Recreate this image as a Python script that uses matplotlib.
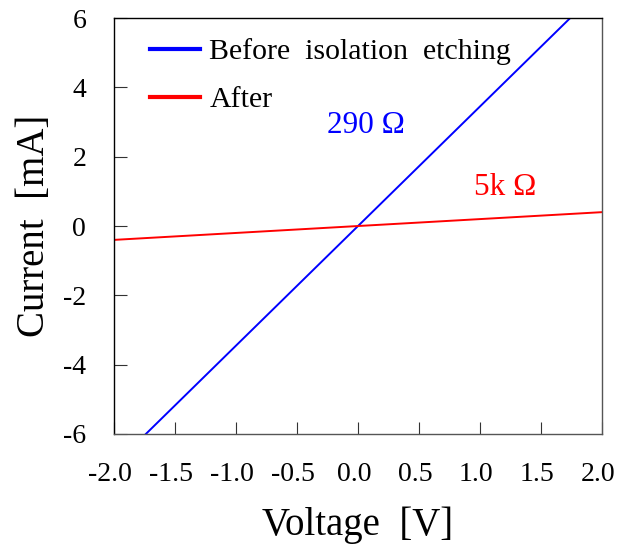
import matplotlib
matplotlib.use("Agg")
import matplotlib.pyplot as plt
import matplotlib.transforms as mtransforms
from matplotlib.ticker import FormatStrFormatter

plt.rcParams['font.family'] = ['Liberation Serif', 'DejaVu Serif']
plt.rcParams['axes.unicode_minus'] = False

# Data (V in volts, I in mA)
voltage = [-2.0, -1.0, 0.0, 1.0, 2.0]
current_before = [-6.9, -3.45, 0.0, 3.45, 6.9]
current_after = [-0.4, -0.2, 0.0, 0.2, 0.4]
series_labels = ["Before  isolation  etching", "After"]
annot_texts = ["290 Ω", "5k Ω"]
x_ticks = [-2.0, -1.5, -1.0, -0.5, 0.0, 0.5, 1.0, 1.5, 2.0]
y_ticks = [-6, -4, -2, 0, 2, 4, 6]

fig = plt.figure(figsize=(6.2, 5.47), dpi=100)
ax = fig.add_axes([0.1839, 0.2066, 0.971 - 0.1839, 0.967 - 0.2066])

ax.plot(voltage, current_before, color='#0000ff', lw=1.4, label=series_labels[0])
ax.plot(voltage, current_after, color='#ff0000', lw=1.4, label=series_labels[1])

ax.set_xlim(-2, 2)
ax.set_ylim(-6, 6)
ax.set_xticks(x_ticks)
ax.set_yticks(y_ticks)
ax.xaxis.set_major_formatter(FormatStrFormatter('%.1f'))
ax.tick_params(direction='in', length=9, width=0.8, labelsize=20,
               top=False, right=False, colors='#333333', labelcolor='black')
ax.tick_params(axis='x', pad=20.5)
ax.tick_params(axis='y', pad=20)
shift = mtransforms.ScaledTranslation(-4 / 100, 0, fig.dpi_scale_trans)
for lbl in ax.get_xticklabels():
    lbl.set_transform(lbl.get_transform() + shift)
for s in ax.spines.values():
    s.set_color('#555555')
    s.set_linewidth(1.0)
ax.spines['left'].set_color('black')
ax.spines['top'].set_color('black')

ax.set_xlabel("Voltage  [V]", fontsize=28, labelpad=14)
ax.set_ylabel("Current  [mA]", fontsize=28, labelpad=7)

ax.text(0.066, 2.91, annot_texts[0], color='#0000ff', fontsize=22.5,
        ha='center', va='center')
ax.text(1.205, 1.10, annot_texts[1], color='#ff0000', fontsize=22.5,
        ha='center', va='center')

leg = ax.legend(loc='upper left', bbox_to_anchor=(0.036, 0.995), frameon=False,
                fontsize=21.5, handlelength=1.7, handletextpad=0.3,
                labelspacing=0.72, borderaxespad=0.2)
for h in leg.get_lines():
    h.set_linewidth(3)

fig.savefig("out.png", dpi=100)
